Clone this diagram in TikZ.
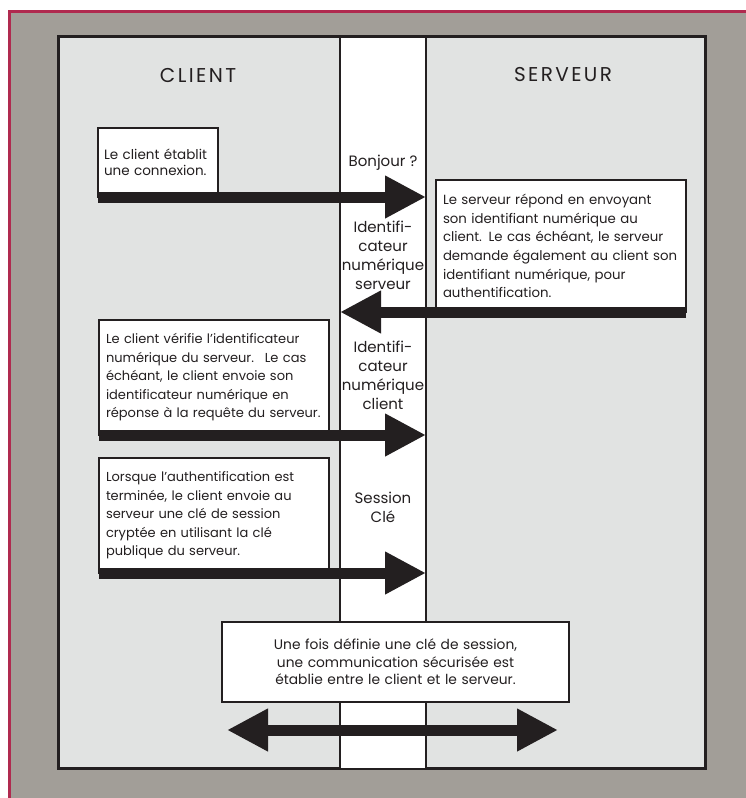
\documentclass[tikz,border=0pt]{standalone}
\usepackage{fontspec}
\setmainfont{Poppins}
\usepackage{tikz}
\usetikzlibrary{arrows.meta}
\usetikzlibrary{positioning}
\definecolor{crimson}{HTML}{B02A4F}
\definecolor{bggray}{HTML}{A29E98}
\definecolor{panelgray}{HTML}{E1E3E2}
\definecolor{ink}{HTML}{231F20}

\begin{document}
\begin{tikzpicture}[x=1pt,y=-1pt,
    box/.style={draw=ink, fill=white, line width=2.5pt, anchor=north west, outer sep=0pt,
      align=left, inner xsep=7pt, inner ysep=0pt, text=ink,
      font=\fontsize{13}{18.5}\selectfont},
    bigarrow/.style={draw=ink, line width=11pt, -{Triangle[length=41pt,width=40pt]}},
    twoway/.style={draw=ink, line width=11pt, {Triangle[length=41pt,width=40pt]}-{Triangle[length=41pt,width=40pt]}},
    midlabel/.style={align=center, text=ink, font=\fontsize{15}{19}\selectfont},
    head/.style={text=ink, font=\fontsize{20}{22}\selectfont\addfontfeature{LetterSpace=12}}]
    \useasboundingbox (0,0) rectangle (746,798);
    \fill[bggray] (8,10) rectangle (746,798);
    \draw[crimson, line width=3pt] (9.5,798) -- (9.5,11.5) -- (746,11.5);
    \node[draw=ink, fill=panelgray, line width=2.5pt, anchor=north west, outer sep=0pt, inner sep=0pt,
      minimum width=647pt, minimum height=732pt] (panel) at (58.5,36.5) {};
    \node[draw=ink, fill=white, line width=2pt, anchor=north west, outer sep=0pt, inner sep=0pt,
      minimum width=86pt, minimum height=732pt] (col) at (340,36.5) {};

    \node[head] (client) at (198,75) {CLIENT};
    \node[head] (serveur) at (563,75) {SERVEUR};

    \node[box, font=\fontsize{13.5}{16}\selectfont, inner xsep=6pt, text width=108pt,
      minimum width=120pt, minimum height=69pt] (b1) at (98,128)
      {Le client établit\\une connexion.};
    \node[box, font=\fontsize{13.3}{18.7}\selectfont, text width=236pt,
      minimum width=250pt, minimum height=132pt] (b2) at (436,180)
      {Le serveur répond en envoyant\\son identifiant numérique au\\client. Le cas échéant, le serveur\\demande également au client son\\identifiant numérique, pour\\authentification.};
    \node[box, text width=216pt, minimum width=230pt, minimum height=115pt] (b3) at (99,320)
      {Le client vérifie l'identificateur\\numérique du serveur.~ Le cas\\échéant, le client envoie son\\identificateur numérique en\\réponse à la requête du serveur.};
    \node[box, text width=216pt, minimum width=230pt, minimum height=115pt] (b4) at (99,458)
      {Lorsque l'authentification est\\terminée, le client envoie au\\serveur une clé de session\\cryptée en utilisant la clé\\publique du serveur.};
    \node[box, align=center, font=\fontsize{13.8}{17.5}\selectfont, text width=333pt,
      minimum width=347pt, minimum height=80pt] (b5) at (222,622)
      {Une fois définie une clé de session,\\une communication sécurisée est\\établie entre le client et le serveur.};

    \node[midlabel] (hello) at (383,163) {Bonjour ?};
    \node[midlabel] (idserv) at (383,255) {Identifi-\\cateur\\numérique\\serveur};
    \node[midlabel] (idcli) at (383,375) {Identifi-\\cateur\\numérique\\client};
    \node[midlabel] (sess) at (383,507) {Session\\Clé};

    \draw[bigarrow] (b1.south west) -- (b1.south west -| col.east);
    \draw[bigarrow] (b2.south east) -- (b2.south east -| col.west);
    \draw[bigarrow] (b3.south west) -- (b3.south west -| col.east);
    \draw[bigarrow] (b4.south west) -- (b4.south west -| col.east);
    \coordinate (left end) at (227,730);
    \coordinate (right end) at (558,730);
    \draw[twoway] (left end) -- (right end);
  \end{tikzpicture}
\end{document}
